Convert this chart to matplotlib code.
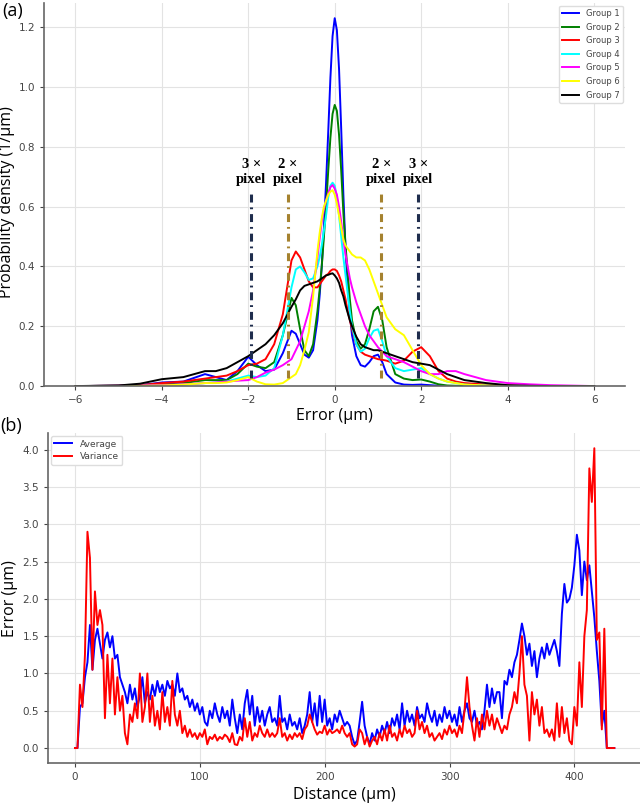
import numpy as np
import matplotlib.pyplot as plt

#%% (a) error distributions

err = [-6, -5, -4.5, -4, -3.5, -3, -2.75, -2.5, -2.25, -2,
       -1.8, -1.6, -1.4, -1.2, -1.0, -0.9, -0.8, -0.7, -0.6, -0.5,
       -0.4, -0.35, -0.3, -0.25, -0.2, -0.15, -0.1, -0.05, 0, 0.05,
       0.1, 0.15, 0.2, 0.25, 0.3, 0.35, 0.4, 0.5, 0.6, 0.7,
       0.8, 0.9, 1.0, 1.1, 1.2, 1.4, 1.6, 1.8, 2.0, 2.2,
       2.4, 2.6, 2.8, 3.0, 3.5, 4, 4.5, 5, 6]

group1 = [0, 0.001, 0.003, 0.012, 0.015, 0.04, 0.03, 0.02, 0.05, 0.098,
          0.07, 0.05, 0.055, 0.11, 0.185, 0.175, 0.14, 0.105, 0.095, 0.12,
          0.22, 0.30, 0.40, 0.53, 0.68, 0.85, 1.03, 1.17, 1.23, 1.19,
          1.06, 0.86, 0.64, 0.46, 0.33, 0.24, 0.17, 0.10, 0.07, 0.065,
          0.08, 0.10, 0.105, 0.08, 0.04, 0.012, 0.005, 0.004, 0.005, 0.003,
          0.001, 0, 0, 0, 0, 0, 0, 0, 0]
group2 = [0, 0.001, 0.002, 0.005, 0.01, 0.02, 0.02, 0.02, 0.04, 0.075,
          0.065, 0.06, 0.08, 0.17, 0.295, 0.27, 0.19, 0.12, 0.10, 0.14,
          0.25, 0.32, 0.40, 0.50, 0.60, 0.72, 0.83, 0.91, 0.94, 0.92,
          0.84, 0.72, 0.58, 0.47, 0.38, 0.29, 0.22, 0.15, 0.125, 0.14,
          0.19, 0.25, 0.265, 0.22, 0.13, 0.04, 0.025, 0.02, 0.022, 0.015,
          0.006, 0.002, 0.001, 0, 0, 0, 0, 0, 0]
group3 = [0, 0.001, 0.003, 0.01, 0.015, 0.025, 0.03, 0.035, 0.05, 0.07,
          0.075, 0.09, 0.14, 0.24, 0.42, 0.45, 0.43, 0.39, 0.35, 0.33,
          0.33, 0.34, 0.35, 0.36, 0.37, 0.375, 0.385, 0.39, 0.39, 0.385,
          0.37, 0.35, 0.32, 0.29, 0.25, 0.22, 0.19, 0.14, 0.115, 0.105,
          0.10, 0.095, 0.09, 0.088, 0.085, 0.075, 0.085, 0.115, 0.13, 0.10,
          0.05, 0.025, 0.015, 0.01, 0.005, 0.002, 0, 0, 0]
group4 = [0, 0, 0.001, 0.002, 0.005, 0.01, 0.012, 0.015, 0.025, 0.035,
          0.03, 0.035, 0.06, 0.17, 0.33, 0.39, 0.40, 0.38, 0.355, 0.36,
          0.40, 0.43, 0.47, 0.52, 0.57, 0.63, 0.67, 0.68, 0.67, 0.63,
          0.57, 0.50, 0.43, 0.37, 0.31, 0.25, 0.20, 0.14, 0.115, 0.125,
          0.16, 0.185, 0.19, 0.15, 0.10, 0.06, 0.05, 0.055, 0.06, 0.04,
          0.025, 0.015, 0.01, 0.005, 0.002, 0, 0, 0, 0]
group5 = [0, 0.001, 0.002, 0.003, 0.006, 0.01, 0.012, 0.015, 0.018, 0.02,
          0.03, 0.045, 0.055, 0.07, 0.09, 0.12, 0.15, 0.20, 0.25, 0.32,
          0.43, 0.49, 0.55, 0.59, 0.62, 0.645, 0.665, 0.672, 0.66, 0.64,
          0.60, 0.55, 0.49, 0.44, 0.40, 0.36, 0.33, 0.28, 0.24, 0.20,
          0.17, 0.15, 0.13, 0.115, 0.10, 0.09, 0.08, 0.065, 0.05, 0.04,
          0.04, 0.05, 0.05, 0.04, 0.02, 0.01, 0.006, 0.003, 0]
group6 = [0, 0, 0.001, 0.002, 0.005, 0.01, 0.01, 0.012, 0.02, 0.03,
          0.015, 0.006, 0.005, 0.01, 0.03, 0.04, 0.07, 0.12, 0.18, 0.30,
          0.45, 0.51, 0.56, 0.60, 0.62, 0.64, 0.65, 0.655, 0.64, 0.61,
          0.57, 0.53, 0.49, 0.47, 0.46, 0.45, 0.44, 0.43, 0.43, 0.42,
          0.39, 0.35, 0.31, 0.27, 0.23, 0.19, 0.17, 0.12, 0.07, 0.04,
          0.025, 0.015, 0.01, 0.005, 0.002, 0, 0, 0, 0]
group7 = [0, 0.002, 0.008, 0.023, 0.03, 0.05, 0.05, 0.06, 0.08, 0.10,
          0.12, 0.14, 0.17, 0.21, 0.265, 0.29, 0.32, 0.335, 0.34, 0.345,
          0.35, 0.355, 0.36, 0.365, 0.37, 0.372, 0.375, 0.377, 0.37, 0.36,
          0.345, 0.32, 0.30, 0.27, 0.245, 0.22, 0.20, 0.165, 0.14, 0.13,
          0.125, 0.12, 0.12, 0.115, 0.11, 0.10, 0.09, 0.08, 0.075, 0.07,
          0.055, 0.04, 0.03, 0.02, 0.01, 0.003, 0.001, 0, 0]

groups = [group1, group2, group3, group4, group5, group6, group7]
group_names = ['Group 1', 'Group 2', 'Group 3', 'Group 4',
               'Group 5', 'Group 6', 'Group 7']
group_colors = ['blue', 'green', 'red', 'cyan', 'magenta', 'yellow', 'black']

# pixel-size markers: 2x and 3x pixel
px2 = 1.08
px3 = 1.93

#%% (b) error along the distance (every 2 um)

dist = np.arange(0, 433, 2)

average = [0, 0, 0.55, 0.6, 0.95, 1.15, 1.65, 1.05, 1.45, 1.6,
           1.4, 1.2, 1.45, 1.55, 1.35, 1.5, 1.2, 1.25, 0.95, 0.85,
           0.75, 0.6, 0.85, 0.65, 0.8, 0.55, 0.7, 0.95, 0.6, 0.75,
           0.65, 0.85, 0.7, 0.9, 0.75, 0.85, 0.7, 0.9, 0.8, 0.85,
           0.7, 1.0, 0.75, 0.8, 0.65, 0.7, 0.55, 0.65, 0.5, 0.6,
           0.45, 0.55, 0.35, 0.3, 0.5, 0.4, 0.6, 0.45, 0.35, 0.55,
           0.4, 0.5, 0.3, 0.65, 0.4, 0.2, 0.45, 0.25, 0.6, 0.78,
           0.45, 0.7, 0.3, 0.55, 0.35, 0.5, 0.3, 0.45, 0.55, 0.35,
           0.4, 0.3, 0.7, 0.35, 0.4, 0.25, 0.45, 0.3, 0.35, 0.25,
           0.4, 0.2, 0.3, 0.45, 0.75, 0.35, 0.6, 0.3, 0.7, 0.35,
           0.65, 0.3, 0.4, 0.25, 0.45, 0.35, 0.5, 0.4, 0.3, 0.35,
           0.3, 0.15, 0.05, 0.1, 0.35, 0.62, 0.3, 0.15, 0.05, 0.2,
           0.1, 0.25, 0.15, 0.3, 0.2, 0.35, 0.2, 0.4, 0.3, 0.45,
           0.25, 0.6, 0.3, 0.5, 0.35, 0.45, 0.3, 0.55, 0.4, 0.45,
           0.35, 0.6, 0.45, 0.35, 0.5, 0.3, 0.45, 0.35, 0.55, 0.4,
           0.5, 0.35, 0.45, 0.3, 0.55, 0.35, 0.5, 0.6, 0.4, 0.35,
           0.5, 0.3, 0.35, 0.25, 0.5, 0.85, 0.55, 0.8, 0.6, 0.75,
           0.75, 0.4, 0.9, 0.85, 1.05, 0.95, 1.15, 1.25, 1.45, 1.67,
           1.5, 1.25, 1.4, 1.1, 1.3, 0.95, 1.2, 1.35, 1.2, 1.4,
           1.25, 1.35, 1.45, 1.3, 1.1, 1.8, 2.2, 1.95, 2.0, 2.15,
           2.45, 2.86, 2.65, 2.05, 2.5, 2.25, 2.45, 2.1, 1.75, 1.3,
           0.9, 0.3, 0.5, 0, 0, 0, 0]

variance = [0, 0, 0.85, 0.55, 1.25, 2.9, 2.55, 1.05, 2.1, 1.65,
            1.85, 1.65, 0.4, 1.25, 0.6, 1.2, 0.45, 0.95, 0.5, 0.7,
            0.2, 0.05, 0.45, 0.35, 0.6, 0.4, 1.0, 0.35, 0.55, 1.0,
            0.35, 0.7, 0.3, 0.5, 0.25, 0.75, 0.35, 0.55, 0.3, 0.9,
            0.45, 0.3, 0.5, 0.2, 0.3, 0.15, 0.25, 0.15, 0.2, 0.12,
            0.2, 0.15, 0.25, 0.05, 0.15, 0.12, 0.18, 0.1, 0.15, 0.12,
            0.18, 0.15, 0.08, 0.2, 0.05, 0.04, 0.15, 0.1, 0.4, 0.15,
            0.35, 0.1, 0.2, 0.15, 0.3, 0.2, 0.15, 0.25, 0.15, 0.2,
            0.15, 0.2, 0.4, 0.15, 0.2, 0.1, 0.18, 0.12, 0.2, 0.15,
            0.2, 0.12, 0.25, 0.3, 0.45, 0.35, 0.25, 0.18, 0.22, 0.2,
            0.3, 0.18, 0.25, 0.2, 0.22, 0.25, 0.2, 0.3, 0.2, 0.15,
            0.2, 0.05, 0.02, 0.05, 0.25, 0.2, 0.05, 0.15, 0.02, 0.1,
            0.15, 0.05, 0.2, 0.1, 0.25, 0.1, 0.3, 0.15, 0.2, 0.1,
            0.25, 0.15, 0.3, 0.2, 0.25, 0.15, 0.2, 0.5, 0.25, 0.35,
            0.2, 0.3, 0.15, 0.2, 0.1, 0.15, 0.2, 0.12, 0.25, 0.18,
            0.3, 0.2, 0.25, 0.15, 0.3, 0.2, 0.5, 0.95, 0.55, 0.3,
            0.1, 0.4, 0.15, 0.45, 0.25, 0.5, 0.3, 0.45, 0.25, 0.4,
            0.3, 0.2, 0.3, 0.25, 0.45, 0.55, 0.75, 0.6, 1.0, 1.5,
            0.85, 0.7, 0.1, 0.75, 0.45, 0.65, 0.3, 0.55, 0.2, 0.25,
            0.15, 0.25, 0.1, 0.6, 0.15, 0.55, 0.2, 0.4, 0.1, 0.05,
            0.55, 0.3, 1.15, 0.55, 1.5, 1.85, 3.75, 3.3, 4.02, 1.45,
            1.55, 0.25, 1.6, 0, 0, 0, 0]

#%% Plot

label_font = 'Open Sans'
grid_kw = dict(color='#e3e3e3', lw=0.8)


def style_axes(ax):
    for side in ['top', 'right']:
        ax.spines[side].set_visible(False)
    for side in ['left', 'bottom']:
        ax.spines[side].set_color('#666666')
        ax.spines[side].set_linewidth(1.2)
    ax.tick_params(labelsize=7.5, colors='#444444', length=3, width=0.8)
    ax.grid(True, **grid_kw)
    ax.set_axisbelow(True)


fig = plt.figure(figsize=(6.4, 8.06), dpi=100)

# (a)
ax = fig.add_axes([0.069, 0.521, 0.908, 0.475])
for vals, name, c in zip(groups, group_names, group_colors):
    ax.plot(err, vals, color=c, lw=1.4, label=name)

dash = (0, (2.6, 1.6, 0.6, 1.6))
for xv, c in [(-px3, '#1f2d4d'), (-px2, '#a5822f'), (px2, '#a5822f'), (px3, '#1f2d4d')]:
    ax.plot([xv, xv], [0.027, 0.65], color=c, lw=2.2, linestyle=dash)
for xv, n in [(-px3, 3), (-px2, 2), (px2, 2), (px3, 3)]:
    ax.text(xv, 0.668, '%d \u00d7\npixel' % n, ha='center', va='bottom',
            fontsize=10.5, fontweight='bold', family='Liberation Serif',
            linespacing=1.25)

ax.set_xlim(-6.72, 6.72)
ax.set_ylim(0, 1.28)
ax.set_xticks([-6, -4, -2, 0, 2, 4, 6])
ax.set_yticks([0, 0.2, 0.4, 0.6, 0.8, 1.0, 1.2])
style_axes(ax)
ax.set_xlabel('Error (\u00b5m)', fontsize=11.5, family=label_font)
ax.set_ylabel('Probability density (1/\u00b5m)', fontsize=11.5, family=label_font)
ax.xaxis.set_label_coords(0.5, -0.056)
ax.yaxis.set_label_coords(-0.05, 0.48)
leg = ax.legend(loc='upper right', fontsize=6, borderaxespad=0.3,
                handlelength=2.0, labelspacing=0.55, framealpha=1)
leg.get_frame().set_edgecolor('#dddddd')
for t in leg.get_texts():
    t.set_color('#444444')

# (b)
ax2 = fig.add_axes([0.075, 0.0534, 0.927, 0.409])
ax2.plot(dist, average, color='blue', lw=1.4, label='Average')
ax2.plot(dist, variance, color='red', lw=1.4, label='Variance')
ax2.set_xlim(-21.6, 453.6)
ax2.set_ylim(-0.2, 4.22)
ax2.set_xticks([0, 100, 200, 300, 400])
ax2.set_yticks([0, 0.5, 1.0, 1.5, 2.0, 2.5, 3.0, 3.5, 4.0])
style_axes(ax2)
ax2.set_xlabel('Distance (\u00b5m)', fontsize=11.5, family=label_font)
ax2.set_ylabel('Error (\u00b5m)', fontsize=11.5, family=label_font)
ax2.xaxis.set_label_coords(0.5, -0.072)
ax2.yaxis.set_label_coords(-0.05, 0.5)
leg2 = ax2.legend(loc='upper left', fontsize=6.5, borderaxespad=0.3,
                  handlelength=2.0, labelspacing=0.4, framealpha=1)
leg2.get_frame().set_edgecolor('#dddddd')
for t in leg2.get_texts():
    t.set_color('#444444')

fig.text(0.003, 0.997, '(a)', fontsize=13, family=label_font, va='top')
fig.text(0.0, 0.483, '(b)', fontsize=13, family=label_font, va='top')

plt.savefig('out.png', dpi=100)
